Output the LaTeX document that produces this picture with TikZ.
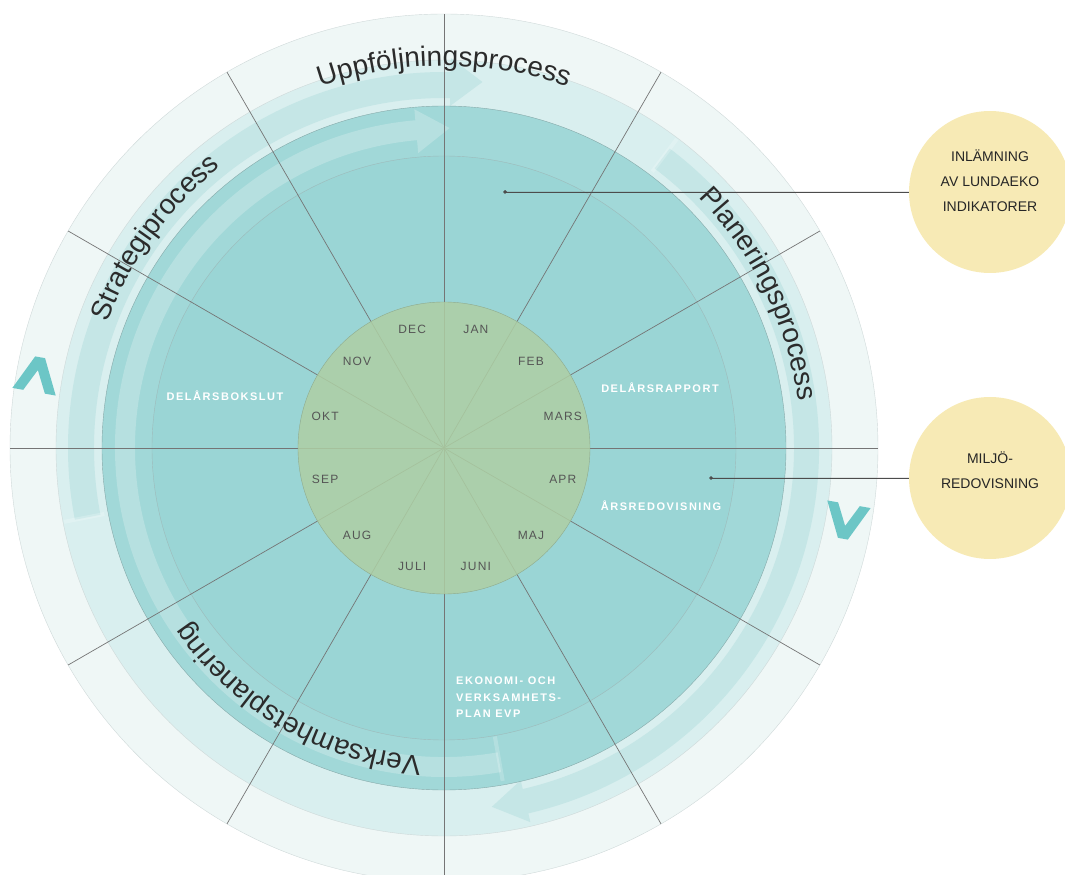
\documentclass[tikz,border=0pt]{standalone}
\usepackage{fontspec}
\setmainfont{Liberation Sans}
\newfontfamily\monthfont[LetterSpace=10]{Liberation Sans}
\newfontfamily\tagfont[LetterSpace=14]{Liberation Sans}
\usetikzlibrary{decorations.text}

\definecolor{outerring}{HTML}{EFF7F6}
\definecolor{midring}{HTML}{D9EFEF}
\definecolor{midband}{HTML}{C5E6E6}
\definecolor{discring}{HTML}{A1D8D8}
\definecolor{discband}{HTML}{B6E0E0}
\definecolor{discin}{HTML}{9AD5D5}
\definecolor{monthfill}{HTML}{AECFA4}
\definecolor{monthline}{HTML}{8FAA8C}
\definecolor{monthtext}{HTML}{555555}
\definecolor{ringline}{HTML}{CFD9D9}
\definecolor{discline}{HTML}{86A9A9}
\definecolor{spokegray}{HTML}{757575}
\definecolor{chev}{HTML}{6CC6C6}
\definecolor{noteyellow}{HTML}{F7EAB5}
\definecolor{proctext}{HTML}{2B2B2B}

\tikzset{
  arclabel/.style={decorate, decoration={text along path, text align=center,
      text={|\fontsize{28}{28}\selectfont\color{proctext}|#1}}},
  spoke/.style={draw=spokegray, line width=.7},
  tailbar/.style={draw=white, draw opacity=.2, line width=4},
  leader/.style={draw=black!70, fill=black!70, line width=.7},
  notetext/.style={align=center, text=black!85, font=\fontsize{14}{25}\selectfont},
  chevron/.pic={\fill[chev] (-22,-17) -- (-5,18) -- (5,18) -- (22,-17) -- (11,-17) -- (0,5) -- (-11,-17) -- cycle;}
}

\begin{document}
\begin{tikzpicture}[x=1pt,y=1pt]
  \useasboundingbox (-444,-427) rectangle (621,448);

  \filldraw[fill=outerring, draw=ringline] (0,0) circle (434);
  \filldraw[fill=midring, draw=ringline] (0,0) circle (388);

  \fill[midband] (191:350) arc[start angle=191, end angle=89, radius=350] -- (89:342) -- (84:368) -- (89:390) -- (89:376) arc[start angle=89, end angle=191, radius=376] -- cycle;
  \fill[midband] (53:350) arc[start angle=53, end angle=-77, radius=350] -- (-77:341) -- (-82.4:362) -- (-77:384) -- (-77:375) arc[start angle=-77, end angle=53, radius=375] -- cycle;
  \draw[tailbar] (191:346) -- (191:387);
  \draw[tailbar] (53:346) -- (53:387);

  \filldraw[fill=discring, draw=discline] (0,0) circle (342);
  \fill[discband] (280:309) arc[start angle=280, end angle=95, radius=309] -- (95:296) -- (89:320) -- (95:340) -- (95:329) arc[start angle=95, end angle=280, radius=329] -- cycle;
  \draw[tailbar] (280:293) -- (280:338);
  \filldraw[fill=discin, draw=discline!80] (0,0) circle (292);

  \foreach \a in {0,30,...,330}
    \draw[spoke] (0,0) -- (\a:434);

  \filldraw[fill=monthfill, fill opacity=.85, draw=monthline] (0,0) circle (146);

  \path[arclabel=Uppföljningsprocess] (150:382) arc[start angle=150, end angle=30, radius=382];
  \path[arclabel=Planeringsprocess] (86:357) arc[start angle=86, end angle=-34, radius=357];
  \path[arclabel=Strategiprocess] (204:359) arc[start angle=204, end angle=84, radius=359];
  \path[arclabel=Verksamhetsplanering] (300:309) arc[start angle=300, end angle=180, radius=309];

  \pic[rotate=-10] at (-407,73) {chevron};
  \pic[rotate=170] at (402,-73) {chevron};

  \begin{scope}[every node/.style={font=\monthfont\fontsize{12}{12}\selectfont, text=monthtext}]
    \foreach \m [count=\i] in {JAN,FEB,MARS,APR,MAJ,JUNI,JULI,AUG,SEP,OKT,NOV,DEC}
      \node (m\i) at ({105-30*\i}:123) {\m};
  \end{scope}

  \begin{scope}[every node/.style={font=\tagfont\bfseries\fontsize{11}{16.5}\selectfont, text=white}]
    \node (bokslut) at (-219,52) {DELÅRSBOKSLUT};
    \node (rapport) at (216,60) {DELÅRSRAPPORT};
    \node (redov) at (217,-58) {ÅRSREDOVISNING};
    \node[align=left, anchor=north west, inner sep=0] (evp) at (12,-229) {EKONOMI- OCH\\VERKSAMHETS-\\PLAN EVP};
  \end{scope}

  \coordinate (d1) at (61,256);
  \coordinate (d2) at (267,-30);
  \begin{scope}[every node/.style={circle, fill=noteyellow, minimum size=162}]
    \node (note1) at (546,256) {};
    \node (note2) at (546,-30) {};
  \end{scope}
  \fill[leader] (d1) circle (1.5);
  \fill[leader] (d2) circle (1.5);
  \draw[leader] (d1) -- (note1.west);
  \draw[leader] (d2) -- (note2.west);
  \node[notetext] (t1) at (546,267) {INLÄMNING\\AV LUNDAEKO\\INDIKATORER};
  \node[notetext] (t2) at (546,-22) {MILJÖ-\\REDOVISNING};

\end{tikzpicture}
\end{document}
